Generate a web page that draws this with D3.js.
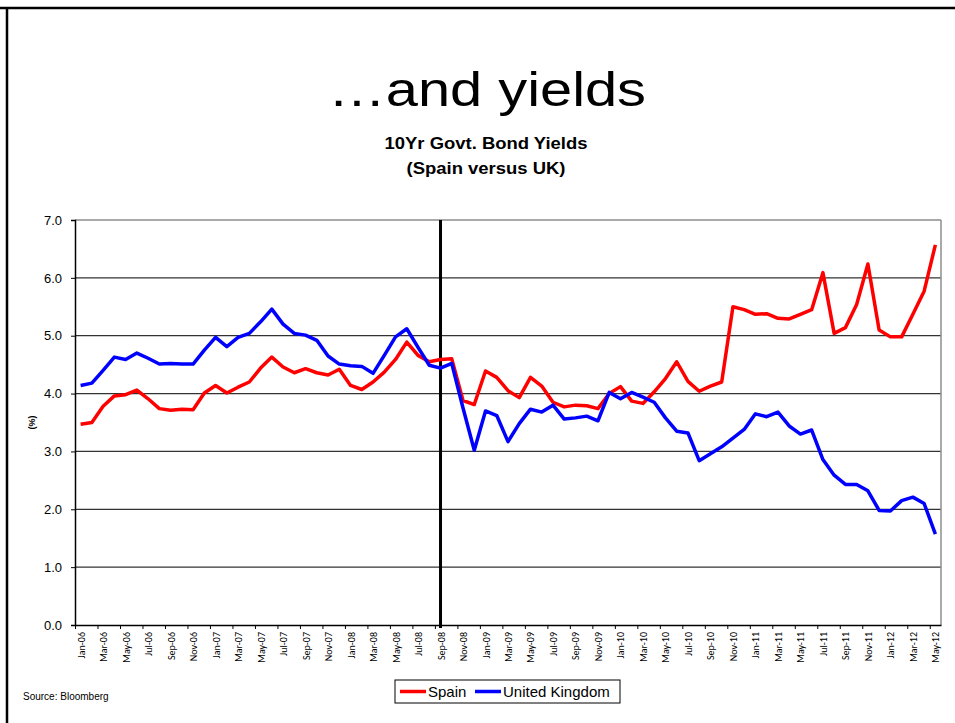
<!DOCTYPE html>
<html>
<head>
<meta charset="utf-8">
<script src="https://cdn.jsdelivr.net/npm/d3@7"></script>
<style>
  body { margin: 0; background: #fff; }
  svg { display: block; font-family: Arial, "Liberation Sans", sans-serif; }
</style>
</head>
<body>
<script>
// Monthly categories, Jan-06 .. May-12
const months = [
  "Jan-06","Feb-06","Mar-06","Apr-06","May-06","Jun-06","Jul-06","Aug-06","Sep-06","Oct-06","Nov-06","Dec-06",
  "Jan-07","Feb-07","Mar-07","Apr-07","May-07","Jun-07","Jul-07","Aug-07","Sep-07","Oct-07","Nov-07","Dec-07",
  "Jan-08","Feb-08","Mar-08","Apr-08","May-08","Jun-08","Jul-08","Aug-08","Sep-08","Oct-08","Nov-08","Dec-08",
  "Jan-09","Feb-09","Mar-09","Apr-09","May-09","Jun-09","Jul-09","Aug-09","Sep-09","Oct-09","Nov-09","Dec-09",
  "Jan-10","Feb-10","Mar-10","Apr-10","May-10","Jun-10","Jul-10","Aug-10","Sep-10","Oct-10","Nov-10","Dec-10",
  "Jan-11","Feb-11","Mar-11","Apr-11","May-11","Jun-11","Jul-11","Aug-11","Sep-11","Oct-11","Nov-11","Dec-11",
  "Jan-12","Feb-12","Mar-12","Apr-12","May-12"
];

const spain = [
  3.47,3.50,3.78,3.96,3.98,4.06,3.91,3.74,3.71,3.73,3.72,4.01,
  4.14,4.01,4.11,4.20,4.44,4.63,4.46,4.36,4.43,4.36,4.32,4.42,
  4.14,4.07,4.20,4.37,4.59,4.89,4.66,4.55,4.59,4.60,3.88,3.81,
  4.39,4.28,4.05,3.93,4.28,4.13,3.85,3.77,3.80,3.79,3.74,4.00,
  4.12,3.87,3.83,4.03,4.26,4.55,4.21,4.04,4.13,4.20,5.50,5.45,
  5.37,5.38,5.30,5.29,5.37,5.45,6.09,5.04,5.14,5.54,6.24,5.10,
  4.98,4.98,5.37,5.77,6.57
];

const uk = [
  4.14,4.18,4.40,4.63,4.59,4.70,4.61,4.51,4.52,4.51,4.51,4.75,
  4.97,4.81,4.97,5.04,5.24,5.46,5.20,5.04,5.01,4.92,4.65,4.51,
  4.48,4.47,4.35,4.66,4.98,5.12,4.80,4.49,4.44,4.52,3.75,3.02,
  3.70,3.62,3.17,3.48,3.73,3.68,3.80,3.56,3.58,3.61,3.53,4.02,
  3.91,4.02,3.94,3.85,3.58,3.35,3.32,2.84,2.96,3.08,3.23,3.38,
  3.65,3.60,3.68,3.44,3.30,3.37,2.86,2.59,2.43,2.43,2.32,1.98,
  1.97,2.15,2.21,2.10,1.57
];

const yTicks = [0, 1, 2, 3, 4, 5, 6, 7];
const markerMonth = "Sep-08";

const series = [
  {name: "Spain", values: spain, colour: "#ff0000"},
  {name: "United Kingdom", values: uk, colour: "#0000ff"}
];

const width = 955, height = 723;
const plot = {left: 75, right: 941, top: 220, bottom: 625};

const svg = d3.select("body").append("svg")
  .attr("width", width)
  .attr("height", height);

// slide frame (top and left edges)
svg.append("line").attr("x1", 0).attr("x2", width).attr("y1", 8).attr("y2", 8)
  .attr("stroke", "#000").attr("stroke-width", 2.5);
svg.append("line").attr("x1", 7).attr("x2", 7).attr("y1", 8).attr("y2", height)
  .attr("stroke", "#000").attr("stroke-width", 2.5);

// titles
svg.append("text")
  .attr("x", 487).attr("y", 106)
  .attr("text-anchor", "middle")
  .attr("textLength", 318).attr("lengthAdjust", "spacingAndGlyphs")
  .style("font-size", "48px")
  .text("\u2026and yields");

svg.append("text")
  .attr("x", 486).attr("y", 149)
  .attr("text-anchor", "middle")
  .attr("textLength", 203).attr("lengthAdjust", "spacingAndGlyphs")
  .style("font-size", "17px").style("font-weight", "bold")
  .text("10Yr Govt. Bond Yields");

svg.append("text")
  .attr("x", 486).attr("y", 174)
  .attr("text-anchor", "middle")
  .attr("textLength", 159).attr("lengthAdjust", "spacingAndGlyphs")
  .style("font-size", "17px").style("font-weight", "bold")
  .text("(Spain versus UK)");

// scales
const xBand = d3.scaleBand().domain(months).range([plot.left, plot.right]).padding(0);
const xEdge = d3.scaleLinear().domain([0, months.length]).range([plot.left, plot.right]);
const y = d3.scaleLinear().domain([0, 7]).range([plot.bottom, plot.top]);
const xMid = m => xBand(m) + xBand.bandwidth() / 2;

// gridlines
svg.append("g")
  .selectAll("line")
  .data(yTicks.filter(t => t > 0))
  .join("line")
  .attr("x1", plot.left).attr("x2", plot.right)
  .attr("y1", d => y(d)).attr("y2", d => y(d))
  .attr("stroke", d => d === 7 ? "#8c8c8c" : "#333")
  .attr("stroke-width", d => d === 7 ? 1.5 : 1.2);

// right plot border
svg.append("line")
  .attr("x1", plot.right).attr("x2", plot.right)
  .attr("y1", plot.top).attr("y2", plot.bottom)
  .attr("stroke", "#8c8c8c").attr("stroke-width", 1.5);

// y axis
const yAxis = svg.append("g")
  .attr("transform", "translate(" + plot.left + ",0)")
  .call(d3.axisLeft(y).tickValues(yTicks).tickFormat(d3.format(".1f")).tickSize(4).tickPadding(9));
yAxis.select(".domain").attr("stroke", "#000").attr("stroke-width", 1.5);
yAxis.selectAll("text").style("font-size", "13px").attr("fill", "#000")
  .style("font-family", "Arial, 'Liberation Sans', sans-serif");

svg.append("text")
  .attr("transform", "translate(35," + ((plot.top + plot.bottom) / 2) + ") rotate(-90)")
  .attr("text-anchor", "middle")
  .style("font-size", "9px").style("font-weight", "bold")
  .text("(%)");

// x axis: ticks on category boundaries every 2 months, labels at category centres
const tickIdx = d3.range(0, months.length, 2);
const xAxis = svg.append("g")
  .attr("transform", "translate(0," + plot.bottom + ")")
  .call(d3.axisBottom(xEdge).tickValues(tickIdx).tickFormat(i => months[i]).tickSize(4).tickSizeOuter(0));
xAxis.select(".domain").attr("stroke", "#000").attr("stroke-width", 1.5);
xAxis.selectAll("text")
  .attr("transform", "translate(" + (xBand.bandwidth() / 2) + ",0) rotate(-90)")
  .attr("text-anchor", "end")
  .attr("x", -7).attr("y", 0).attr("dy", "0.35em")
  .style("font-size", "10px")
  .style("font-family", "Carlito, 'Liberation Sans', Arial, sans-serif")
  .attr("fill", "#000");

// Sep-08 marker
svg.append("line")
  .attr("x1", xMid(markerMonth)).attr("x2", xMid(markerMonth))
  .attr("y1", plot.top).attr("y2", plot.bottom + 3)
  .attr("stroke", "#000").attr("stroke-width", 3);

// lines
const line = d3.line()
  .x((d, i) => xMid(months[i]))
  .y(d => y(d));

svg.append("g")
  .selectAll("path")
  .data(series)
  .join("path")
  .attr("d", s => line(s.values))
  .attr("fill", "none")
  .attr("stroke", s => s.colour)
  .attr("stroke-width", 3.5)
  .attr("stroke-linejoin", "round");

// legend
const legend = svg.append("g").attr("transform", "translate(395,680)");
legend.append("rect")
  .attr("x", 0).attr("y", 0).attr("width", 225).attr("height", 23)
  .attr("fill", "#fff").attr("stroke", "#000").attr("stroke-width", 1);
const legendX = [5, 80];
series.forEach((s, i) => {
  legend.append("line")
    .attr("x1", legendX[i]).attr("x2", legendX[i] + 26)
    .attr("y1", 11.5).attr("y2", 11.5)
    .attr("stroke", s.colour).attr("stroke-width", 3.5);
  legend.append("text")
    .attr("x", legendX[i] + 28).attr("y", 17)
    .style("font-size", "15px")
    .text(s.name);
});

svg.append("text")
  .attr("x", 23).attr("y", 700)
  .style("font-size", "10px")
  .text("Source: Bloomberg");
</script>
</body>
</html>
